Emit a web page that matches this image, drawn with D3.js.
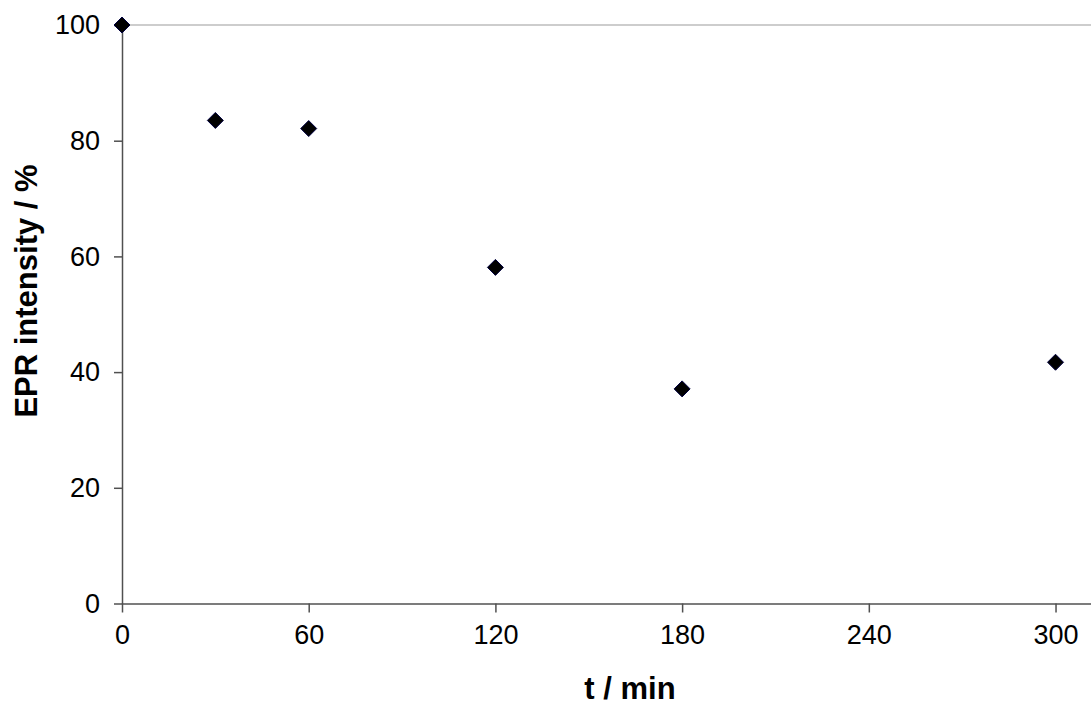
<!DOCTYPE html>
<html>
<head>
<meta charset="utf-8">
<script src="https://cdn.jsdelivr.net/npm/d3@7"></script>
<style>
  html, body { margin: 0; padding: 0; background: #fff; }
  svg { display: block; }
  text { font-family: "Liberation Sans", Arial, sans-serif; }
</style>
</head>
<body>
<svg id="chart" width="1091" height="705"></svg>
<script>
const timeMin = [0, 30, 60, 120, 180, 300];
const eprIntensity = [100, 83.5, 82.1, 58.1, 37.1, 41.7];
const xTicks = [0, 60, 120, 180, 240, 300];
const yTicks = [0, 20, 40, 60, 80, 100];

const svg = d3.select("#chart");
const x = d3.scaleLinear().domain([0, 311.4]).range([122, 1091]);
const y = d3.scaleLinear().domain([0, 100]).range([603.5, 25]);

// gridline at top
svg.append("g")
  .selectAll("line").data([100]).join("line")
  .attr("x1", x(0)).attr("x2", 1091)
  .attr("y1", d => y(d)).attr("y2", d => y(d))
  .attr("stroke", "#bdbdbd").attr("stroke-width", 1.5);

// x axis
const xAxis = svg.append("g").attr("transform", `translate(0,${y(0)})`)
  .call(d3.axisBottom(x).tickValues(xTicks).tickSize(9).tickPadding(12).tickSizeOuter(0));
xAxis.select(".domain").attr("stroke", "#505050").attr("stroke-width", 1.5);
xAxis.selectAll(".tick line").attr("stroke", "#505050").attr("stroke-width", 1.5);
xAxis.selectAll(".tick text").attr("font-size", 27).attr("fill", "#000")
  .attr("font-family", "'Liberation Sans', Arial, sans-serif");

// y axis
const yAxis = svg.append("g").attr("transform", `translate(${x(0)},0)`)
  .call(d3.axisLeft(y).tickValues(yTicks).tickSize(8).tickPadding(14).tickSizeOuter(0));
yAxis.select(".domain").attr("stroke", "#505050").attr("stroke-width", 1.5);
yAxis.selectAll(".tick line").attr("stroke", "#505050").attr("stroke-width", 1.5);
yAxis.selectAll(".tick text").attr("font-size", 27).attr("fill", "#000")
  .attr("font-family", "'Liberation Sans', Arial, sans-serif");

// points
const data = timeMin.map((t, i) => ({ t, v: eprIntensity[i] }));
const diamond = "M0,-8L8,0L0,8L-8,0Z";
svg.append("g").selectAll("path").data(data).join("path")
  .attr("d", diamond)
  .attr("transform", d => `translate(${x(d.t)},${y(d.v)})`)
  .attr("fill", "#000")
  .attr("stroke", "#000040").attr("stroke-width", 1);

// axis titles
svg.append("text")
  .attr("x", 630).attr("y", 699)
  .attr("text-anchor", "middle")
  .attr("font-size", 31).attr("font-weight", "bold")
  .text("t / min");

svg.append("text")
  .attr("transform", "translate(37,291) rotate(-90)")
  .attr("text-anchor", "middle")
  .attr("font-size", 31).attr("font-weight", "bold")
  .text("EPR intensity / %");
</script>
</body>
</html>
